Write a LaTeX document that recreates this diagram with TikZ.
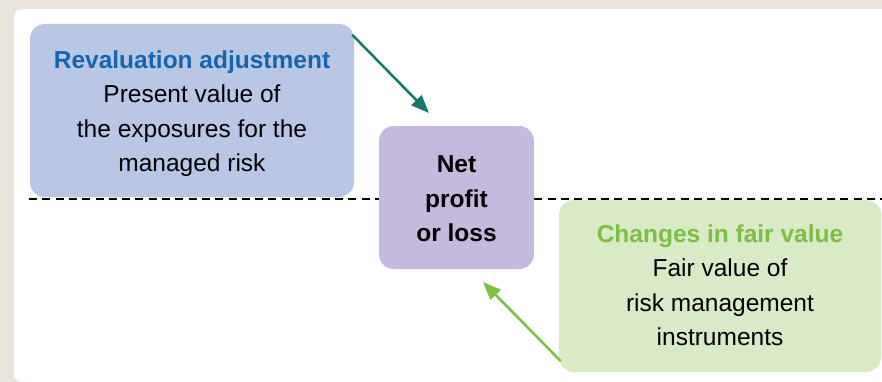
\documentclass[tikz,border=0pt]{standalone}
\usepackage{fontspec}
\setmainfont{Liberation Sans}
\usetikzlibrary{arrows.meta,calc}
\definecolor{bgbeige}{RGB}{233,228,221}
\definecolor{bluefill}{RGB}{185,199,229}
\definecolor{netfill}{RGB}{197,185,221}
\definecolor{greenfill}{RGB}{217,234,198}
\definecolor{titleblue}{RGB}{21,100,176}
\definecolor{titlegreen}{RGB}{125,190,69}
\definecolor{tealarrow}{RGB}{23,119,106}
\definecolor{greenarrow}{RGB}{125,193,66}
\tikzset{
  box/.style={rounded corners=15pt, inner sep=0pt, draw=none},
  txt/.style={inner sep=0pt, align=center, font=\fontsize{24.5}{34.5}\selectfont},
  arr/.style={line width=2.5pt, -{Triangle[length=18pt,width=14pt]}},
  divider/.style={line width=2.5pt, dash pattern=on 8pt off 5.3pt}
}
\begin{document}
\begin{tikzpicture}[x=1pt,y=-1pt]
\useasboundingbox (0,0) rectangle (882,382);
\fill[bgbeige] (0,0) rectangle (882,382);
\begin{scope}
\clip (0,0) rectangle (882,382);
\fill[white, rounded corners=8pt] (14,9) rectangle (910,382);
\end{scope}
% dashed divider
\coordinate (dl) at (29,199);
\coordinate (dr) at (882,199);
\draw[divider] (dl) -- (dr);
% boxes
\node[box, fill=bluefill, minimum width=324pt, minimum height=173pt] (blue) at (192,110.5) {};
\node[box, fill=netfill, minimum width=155pt, minimum height=143pt] (net) at (456.5,197.5) {};
\node[box, fill=greenfill, minimum width=322pt, minimum height=172pt] (green) at (720,286) {};
% texts
\node[txt] (blueText) at (192,113.6) {\textcolor{titleblue}{\bfseries Revaluation adjustment}\\Present value of\\the exposures for the\\managed risk};
\node[txt, font=\fontsize{24.5}{34.5}\selectfont\bfseries] (netText) at (456.5,198.8) {Net\\profit\\or loss};
\node[txt] (greenText) at (720,285) {\textcolor{titlegreen}{\bfseries Changes in fair value}\\Fair value of\\risk management\\instruments};
% arrows
\coordinate (tip1) at (429,113);
\coordinate (tip2) at (483,282);
\draw[arr, draw=tealarrow, fill=tealarrow] ($(blue.north east)+(-2,11)$) -- (tip1);
\draw[arr, draw=greenarrow, fill=greenarrow] ($(green.south west)+(2,-11)$) -- (tip2);
\end{tikzpicture}
\end{document}
